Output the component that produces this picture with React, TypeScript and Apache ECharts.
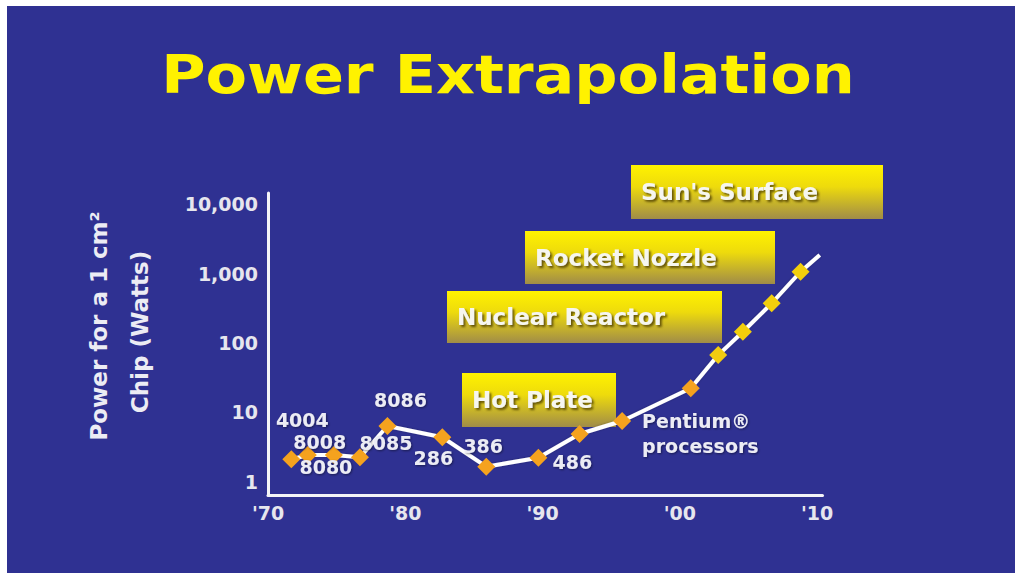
import React, { useEffect, useRef } from "react";
import * as echarts from "echarts";

// ---- data ----
const years = [1971.7, 1972.9, 1974.8, 1976.7, 1978.7, 1982.7, 1985.9, 1989.7, 1992.7, 1995.8, 2000.8, 2002.8, 2004.6, 2006.7, 2008.8, 2010.2];
const watts = [2.12, 2.45, 2.45, 2.27, 6.4, 4.4, 1.66, 2.24, 4.9, 7.55, 22.3, 67, 145, 373, 1060, 1850];
const chipNames = ["4004", "8008", "8080", "8085", "8086", "286", "386", "486", "", "Pentium®\nprocessors", "", "", "", "", "", ""];
const yTickValues = [1, 10, 100, 1000, 10000];
const xTickYears = [1970, 1980, 1990, 2000, 2010];
const levelNames = ["Sun's Surface", "Rocket Nozzle", "Nuclear Reactor", "Hot Plate"];
const titleText = "Power Extrapolation";
const yTitleLines = ["Power for a 1 cm²", "Chip (Watts)"];

// ---- layout / styling (not data) ----
const labelOffsets: Array<[number, number] | null> = [
  [11, -39], [12, -13], [-8, 12], [26, -14], [13, -26], [-9, 21], [-3, -21], [34, 4], null, [20, 13],
  null, null, null, null, null, null,
];
const markerColors = ["#f5a21e", "#f5a21e", "#f5a21e", "#f5a21e", "#f5a21e", "#f5a21e", "#f5a21e", "#f5a21e", "#f5a21e", "#f5a21e", "#f5a21e", "#f2cc10", "#f2cf0c", "#f2cf0c", "#f2cf0c", "#f2cf0c"];
const boxes = [
  { x: 631, y: 165, w: 252, h: 54 },
  { x: 525, y: 231, w: 250, h: 53 },
  { x: 447, y: 291, w: 275, h: 52 },
  { x: 462, y: 373, w: 154, h: 54 },
];

export default function App() {
  const ref = useRef<HTMLDivElement>(null);
  useEffect(() => {
    if (!ref.current) return;
    const chart = echarts.init(ref.current, undefined, { renderer: "svg" });
    const labelFont = { fontFamily: "DejaVu Sans", fontWeight: "bold" as const, fontSize: 19, color: "#ececf4" };
    const data = years.map((yr, i) => {
      const off = labelOffsets[i];
      const item: any = {
        value: [yr, watts[i]],
        itemStyle: { color: markerColors[i] },
      };
      if (i === years.length - 1) item.symbol = "none";
      if (off && chipNames[i]) {
        const isMulti = chipNames[i].includes("\n");
        item.label = {
          show: true,
          formatter: chipNames[i],
          position: "inside",
          offset: off,
          align: isMulti ? "left" : "center",
          verticalAlign: "middle",
          lineHeight: 25,
          ...labelFont,
          textShadowColor: "rgba(0,0,0,0.45)",
          textShadowBlur: 2,
          textShadowOffsetX: 1,
          textShadowOffsetY: 1,
        };
      }
      return item;
    });

    const boxGraphics = boxes.map((b, i) => ({
      type: "group",
      z: 1,
      children: [
        {
          type: "rect",
          shape: { x: b.x, y: b.y, width: b.w, height: b.h },
          style: {
            fill: {
              type: "linear", x: 0, y: 0, x2: 0, y2: 1,
              colorStops: [
                { offset: 0, color: "#fff200" },
                { offset: 0.4, color: "#eedb0c" },
                { offset: 1, color: "#a08c48" },
              ],
            },
          },
        },
        {
          type: "text",
          x: b.x + 10,
          y: b.y + b.h / 2,
          style: {
            text: levelNames[i],
            align: "left",
            verticalAlign: "middle",
            fontFamily: "DejaVu Sans",
            fontWeight: "bold",
            fontSize: 23,
            fill: "#f6f6f0",
            textShadowColor: "rgba(70,55,0,0.8)",
            textShadowBlur: 2,
            textShadowOffsetX: 2,
            textShadowOffsetY: 2,
          },
        },
      ],
    }));

    chart.setOption({
      animation: false,
      backgroundColor: "#ffffff",
      graphic: [
        {
          type: "rect",
          z: -10,
          shape: { x: 7, y: 6, width: 1008, height: 567 },
          style: { fill: "#2f3192" },
        },
        {
          type: "text",
          z: 1,
          x: 508,
          y: 74,
          scaleX: 1.14,
          style: {
            text: titleText,
            align: "center",
            verticalAlign: "middle",
            fontFamily: "DejaVu Sans",
            fontWeight: "bold",
            fontSize: 53,
            fill: "#fff200",
          },
        },
        {
          type: "text",
          z: 1,
          x: 99,
          y: 326,
          rotation: Math.PI / 2,
          style: {
            text: yTitleLines[0],
            align: "center",
            verticalAlign: "middle",
            fontFamily: "DejaVu Sans",
            fontWeight: "bold",
            fontSize: 23,
            fill: "#ececf4",
          },
        },
        {
          type: "text",
          z: 1,
          x: 140,
          y: 332,
          rotation: Math.PI / 2,
          style: {
            text: yTitleLines[1],
            align: "center",
            verticalAlign: "middle",
            fontFamily: "DejaVu Sans",
            fontWeight: "bold",
            fontSize: 23,
            fill: "#ececf4",
          },
        },
        ...boxGraphics,
      ],
      grid: { left: 268, right: 194.5, top: 193, bottom: 81 },
      xAxis: {
        type: "value",
        min: 1970,
        max: 2010.4,
        interval: 10,
        splitLine: { show: false },
        axisTick: { show: false },
        axisLine: { show: true, onZero: false, lineStyle: { color: "#f4f4f8", width: 3 } },
        axisLabel: {
          margin: 8,
          ...labelFont,
          color: "#e6e6ee",
          formatter: (v: number) => (xTickYears.includes(Math.round(v)) && Math.abs(v - Math.round(v)) < 1e-6 ? "'" + String(Math.round(v)).slice(2) : ""),
        },
      },
      yAxis: {
        type: "log",
        logBase: 10,
        min: 0.65,
        max: 14400,
        splitLine: { show: false },
        axisTick: { show: false },
        axisLine: { show: true, onZero: false, lineStyle: { color: "#f4f4f8", width: 3 } },
        axisLabel: {
          margin: 10,
          ...labelFont,
          color: "#e6e6ee",
          formatter: (v: number) => {
            const hit = yTickValues.find((t) => Math.abs(v - t) / t < 1e-6);
            return hit ? hit.toLocaleString("en-US") : "";
          },
        },
      },
      series: [
        {
          type: "line",
          data,
          symbol: "diamond",
          symbolSize: 18,
          z: 3,
          lineStyle: { color: "#ffffff", width: 4, shadowColor: "rgba(0,0,0,0.3)", shadowBlur: 2 },
          label: { show: false },
        },
      ],
    });
    return () => chart.dispose();
  }, []);
  return <div ref={ref} style={{ position: "absolute", left: 0, top: 0, width: 1017, height: 576 }} />;
}
